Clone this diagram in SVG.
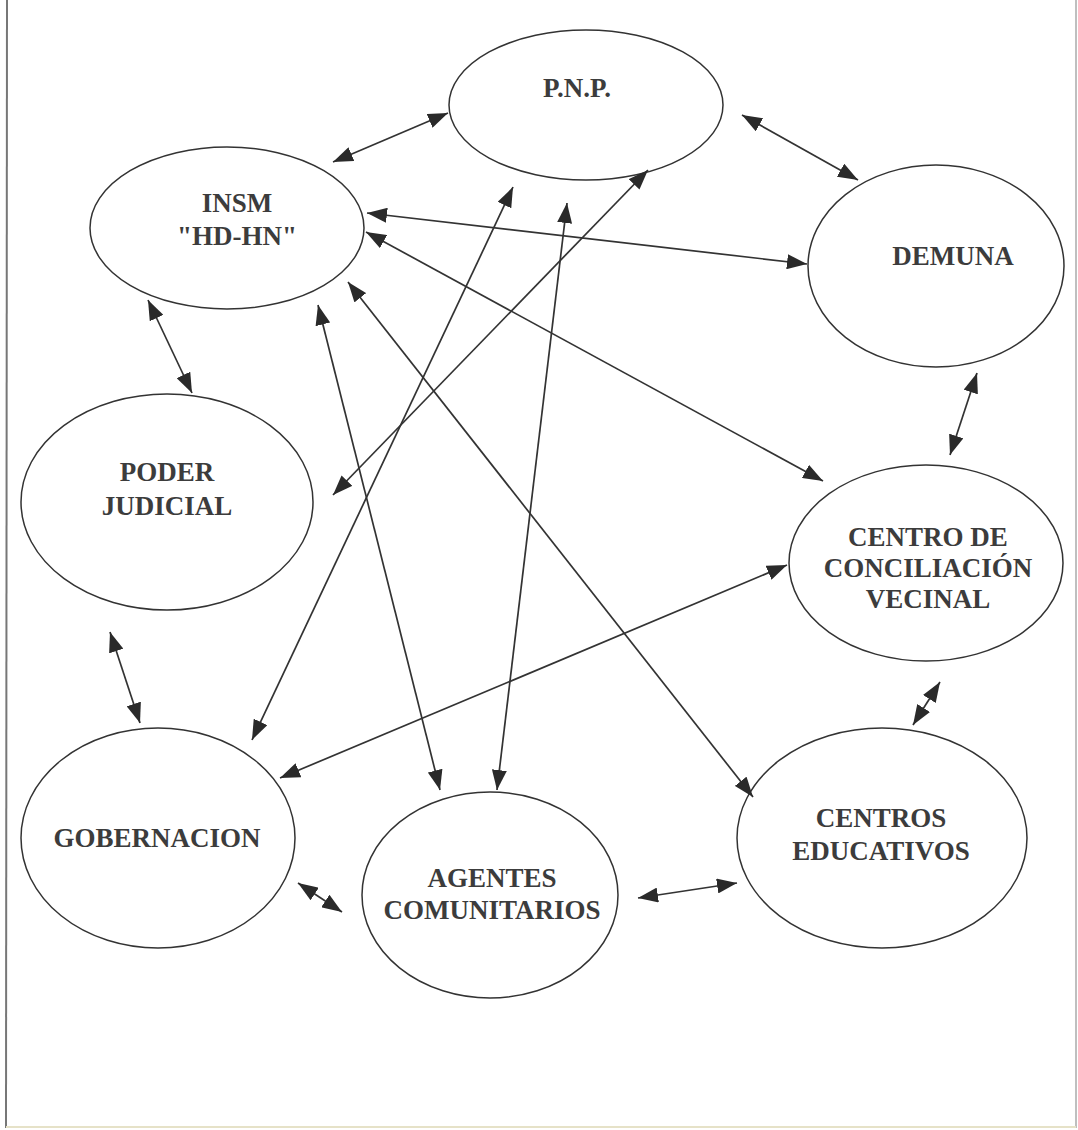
<svg xmlns="http://www.w3.org/2000/svg" width="1078" height="1130" viewBox="0 0 1078 1130">
<style>
.node ellipse{fill:#fff;stroke:#333;stroke-width:1.5}
.node text{font-family:"Liberation Serif","Times New Roman",serif;font-weight:bold;font-size:27px;fill:#3c3c3c;text-anchor:middle}
.conn line{stroke:#333;stroke-width:1.7;marker-start:url(#ah);marker-end:url(#ah)}
</style>
<defs>
<marker id="ah" markerUnits="userSpaceOnUse" markerWidth="21" markerHeight="15" refX="20" refY="7.5" orient="auto-start-reverse" viewBox="0 0 21 15">
<path d="M0,0 L20,7.5 L0,15 z" fill="#2a2a2a"/>
</marker>
</defs>
<rect x="0" y="0" width="1078" height="1130" fill="#fff"/>
<g id="border">
<line x1="7" y1="0" x2="6" y2="1128" stroke="#777" stroke-width="2"/>
<line x1="1076" y1="0" x2="1076" y2="1128" stroke="#aaa" stroke-width="1.5"/>
<line x1="6" y1="1127" x2="1076" y2="1127" stroke="#e6e2c8" stroke-width="2"/>
</g>
<g id="nodes">
<g id="pnp" class="node"><ellipse cx="586" cy="105" rx="137" ry="75"/><text x="577" y="97">P.N.P.</text></g>
<g id="insm" class="node"><ellipse cx="227" cy="228" rx="137" ry="81"/><text x="237" y="212">INSM</text><text x="237" y="245">"HD-HN"</text></g>
<g id="demuna" class="node"><ellipse cx="936" cy="266" rx="128" ry="101"/><text x="953" y="265">DEMUNA</text></g>
<g id="poder" class="node"><ellipse cx="167" cy="502" rx="146" ry="108"/><text x="167" y="481">PODER</text><text x="167" y="515">JUDICIAL</text></g>
<g id="centro" class="node"><ellipse cx="926" cy="563" rx="137" ry="98"/><text x="928" y="546">CENTRO DE</text><text x="928" y="577">CONCILIACIÓN</text><text x="928" y="608">VECINAL</text></g>
<g id="gobernacion" class="node"><ellipse cx="158" cy="838" rx="137" ry="110"/><text x="157" y="847">GOBERNACION</text></g>
<g id="agentes" class="node"><ellipse cx="490" cy="895" rx="128" ry="103"/><text x="492" y="887">AGENTES</text><text x="492" y="919">COMUNITARIOS</text></g>
<g id="educativos" class="node"><ellipse cx="882" cy="838" rx="145" ry="110"/><text x="881" y="827">CENTROS</text><text x="881" y="860">EDUCATIVOS</text></g>
</g>
<g id="connectors" class="conn">
<line x1="333" y1="162" x2="448" y2="113"/>
<line x1="742" y1="115" x2="858" y2="180"/>
<line x1="367" y1="213" x2="807" y2="264"/>
<line x1="366" y1="232" x2="823" y2="481"/>
<line x1="348" y1="282" x2="753" y2="797"/>
<line x1="318" y1="305" x2="440" y2="790"/>
<line x1="148" y1="300" x2="192" y2="393"/>
<line x1="648" y1="170" x2="333" y2="495"/>
<line x1="513" y1="187" x2="252" y2="740"/>
<line x1="567" y1="203" x2="497" y2="790"/>
<line x1="787" y1="565" x2="280" y2="778"/>
<line x1="977" y1="373" x2="950" y2="455"/>
<line x1="940" y1="682" x2="913" y2="725"/>
<line x1="110" y1="632" x2="140" y2="723"/>
<line x1="298" y1="883" x2="342" y2="912"/>
<line x1="638" y1="898" x2="737" y2="883"/>
</g>
</svg>
